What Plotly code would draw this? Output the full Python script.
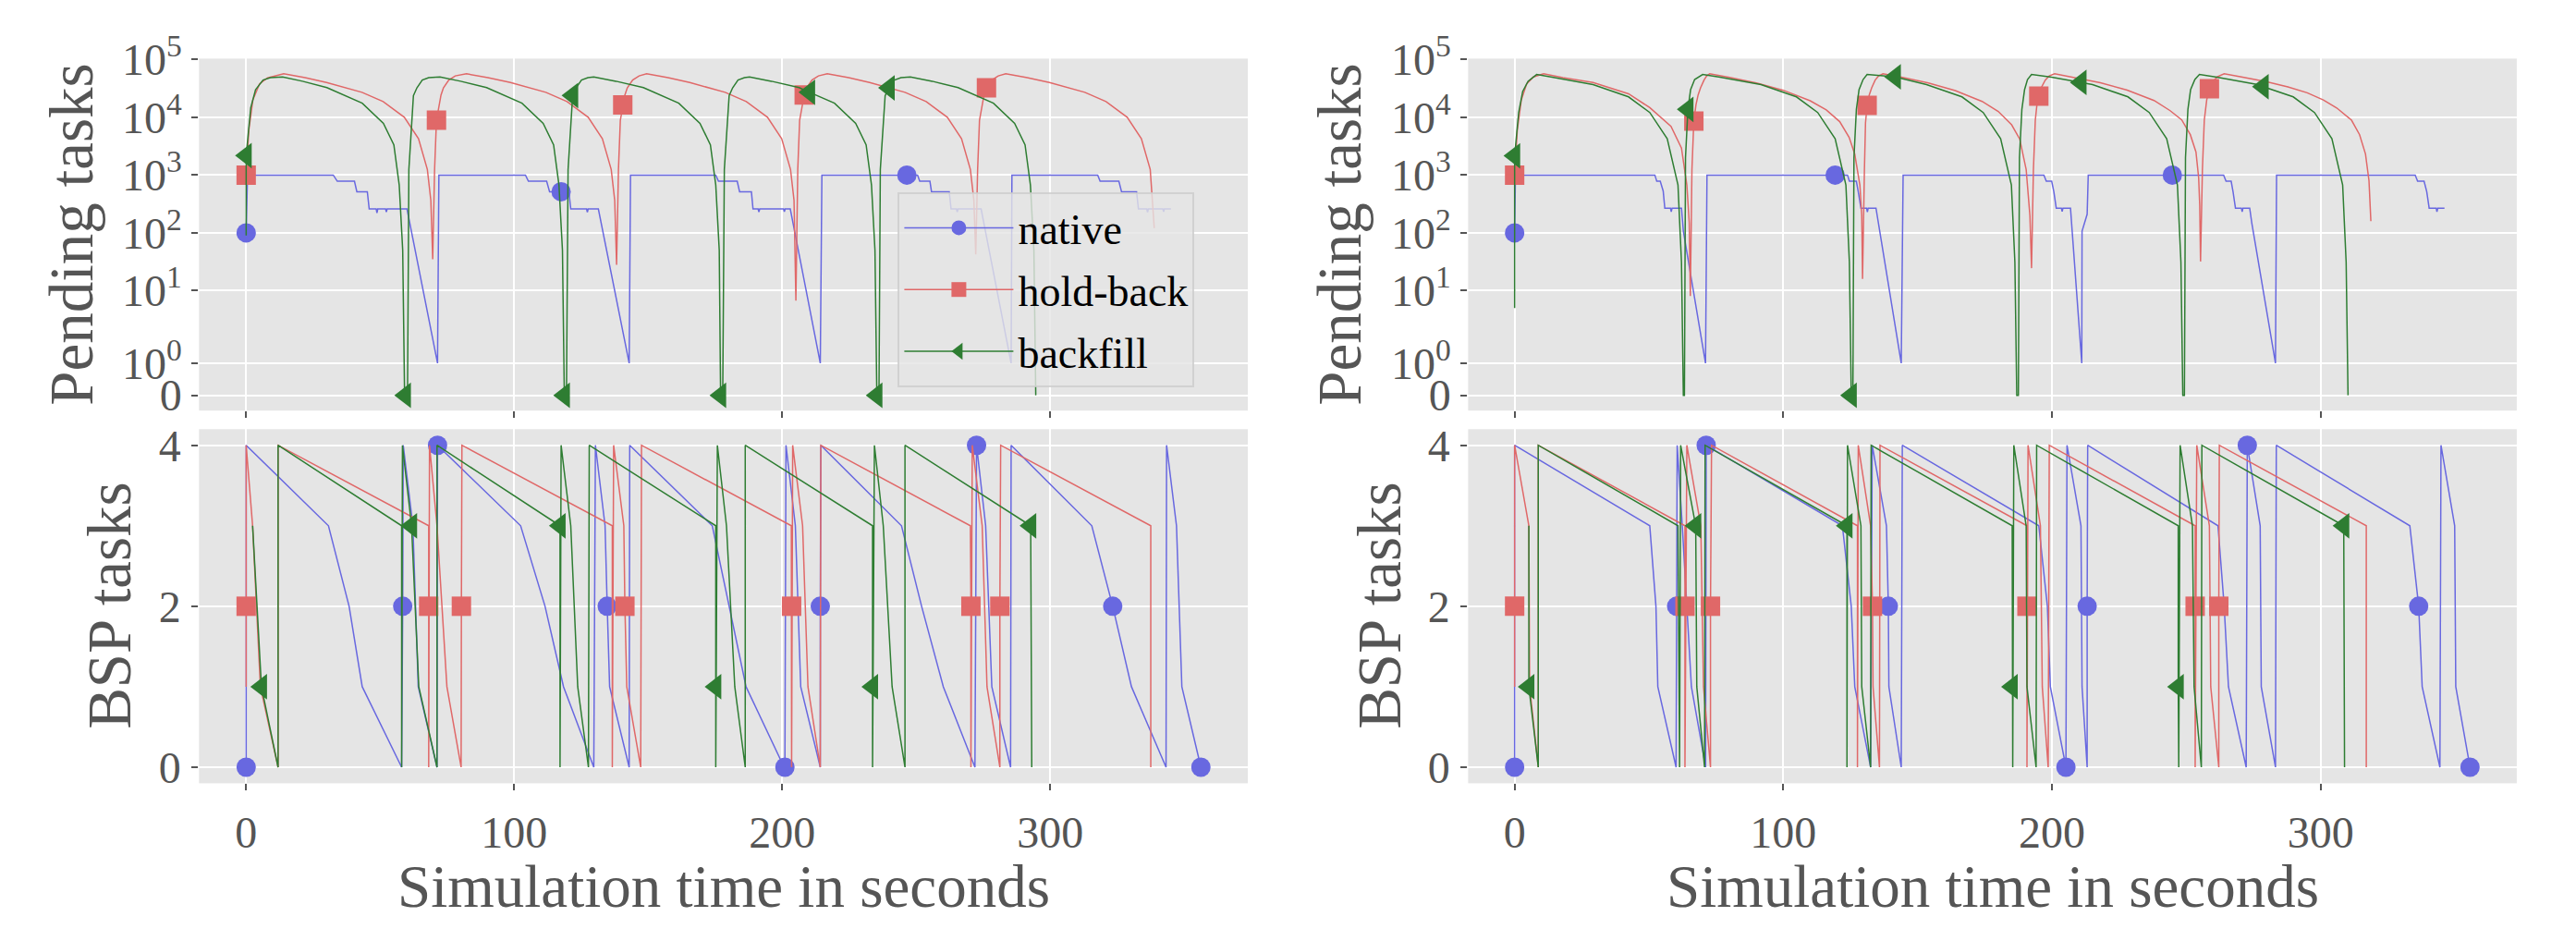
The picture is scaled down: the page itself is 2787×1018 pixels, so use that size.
import math
import plotly.graph_objects as go

W, H = 2787, 1018

# ---------------- data ----------------
SERIES = ["native", "hold-back", "backfill"]
X_TICKS = [0, 100, 200, 300]
PENDING_TICKS = [0, 1, 10, 100, 1000, 10000, 100000]
PENDING_LABELS = ["0", "10<sup>0</sup>", "10<sup>1</sup>", "10<sup>2</sup>",
                  "10<sup>3</sup>", "10<sup>4</sup>", "10<sup>5</sup>"]
BSP_TICKS = [0, 2, 4]
BSP_LABELS = ["0", "2", "4"]
X_TITLE = "Simulation time in seconds"
Y_TITLE_TOP = "Pending tasks"
Y_TITLE_BOTTOM = "BSP tasks"

# left column, pending tasks (time, count)
tl_native = [(0, 100), (0.5, 1000), (32.5, 1000), (34.0, 782), (40.4, 782), (41.3, 515), (45.2, 515),
             (45.9, 259), (48.5, 259), (48.8, 222), (49.1, 259), (52.0, 259), (52.3, 230), (52.6, 259),
             (60.0, 259), (71.4, 1), (71.9, 1000), (104.2, 1000), (105.3, 782), (112.1, 782), (113.2, 515),
             (117.5, 515), (120.4, 515), (121.1, 259), (127.0, 259), (127.3, 228), (127.6, 259), (131.4, 259),
             (142.9, 1), (143.4, 1000), (175.2, 1000), (176.2, 782), (183.2, 782), (184.1, 515), (188.5, 515),
             (189.1, 259), (191.0, 259), (191.3, 230), (191.6, 259), (200.5, 259), (200.8, 232), (201.1, 259),
             (203.0, 259), (214.2, 1), (214.8, 1000), (246.5, 1000), (250.5, 1000), (251.3, 782), (255.1, 782),
             (255.7, 515), (262.3, 515), (263.0, 259), (265.0, 259), (265.3, 230), (265.6, 259), (274.2, 259),
             (285.4, 1), (285.7, 1000), (317.7, 1000), (318.6, 782), (325.6, 782), (326.6, 515), (332.2, 515),
             (332.9, 259), (336.0, 259), (336.3, 228), (336.6, 259), (342.0, 259), (342.3, 232), (342.6, 259),
             (345.0, 259)]
tl_native_marks = [(0, 100), (117.5, 515), (246.5, 1000)]

tl_holdback = [(0, 1000), (1.0, 6000), (2.5, 20000), (5.0, 38000), (8.0, 48000), (14.0, 56500), (22.0, 48500),
               (30.0, 40000), (43.2, 27000), (51.1, 18700), (59.0, 10000), (64.3, 4260), (67.6, 1250),
               (68.9, 366), (69.6, 35),
               (70.3, 1250), (71.0, 8900), (71.9, 16400), (72.7, 24400), (73.6, 32300), (75.6, 44000),
               (78.0, 52000), (82.2, 56500), (90.2, 48500), (98.6, 40000), (111.8, 27000), (119.7, 18700),
               (127.6, 10000), (132.9, 4260), (136.2, 1250), (137.5, 366), (138.2, 28),
               (138.9, 1250), (139.6, 8900), (140.5, 16400), (141.3, 24400), (142.2, 32300), (144.2, 44000),
               (146.6, 52000), (149.4, 56500), (157.4, 48500), (165.5, 40000), (178.7, 27000), (186.6, 18700),
               (194.5, 10000), (199.8, 4260), (203.1, 1250), (204.4, 366), (205.1, 6.7),
               (205.8, 1250), (206.5, 8900), (207.4, 16400), (208.2, 24400), (209.1, 32300), (211.1, 44000),
               (213.5, 52000), (216.8, 56500), (224.8, 48500), (232.6, 40000), (245.8, 27000), (253.7, 18700),
               (261.6, 10000), (266.9, 4260), (270.2, 1250), (271.5, 366), (272.2, 42.5),
               (272.9, 1250), (273.6, 8900), (274.5, 16400), (275.3, 24400), (276.2, 32300), (278.2, 44000),
               (280.6, 52000), (283.4, 56500), (291.4, 48500), (299.7, 40000), (312.9, 27000), (320.8, 18700),
               (328.7, 10000), (334.0, 4260), (337.3, 1250), (338.8, 121)]
tl_holdback_marks = [(0, 1000), (71.0, 8900), (140.5, 16400), (208.2, 24400), (276.2, 32300)]

tl_backfill = [(0, 90), (0, 2170), (1.7, 14560), (3.5, 30000), (6.3, 44000), (9.0, 48500), (13.6, 50000),
               (21.0, 42000), (30.1, 32540), (43.3, 17500), (51.2, 7870), (55.1, 3340), (57.1, 674),
               (58.4, 50), (59.1, 0), (59.4, 0),
               (60.2, 0), (60.7, 1250), (62.4, 23770), (63.7, 32280), (65.7, 44000), (68.1, 48500),
               (72.3, 50000), (80.0, 42000), (89.7, 32540), (102.9, 17500), (110.8, 7870), (114.7, 3340),
               (116.7, 674), (118.0, 50), (118.7, 0),
               (119.5, 0), (120.1, 1250), (121.8, 23770), (123.1, 32280), (125.1, 44000), (127.5, 48500),
               (129.7, 50000), (138.0, 42000), (148.2, 32540), (161.4, 17500), (169.3, 7870), (173.2, 3340),
               (175.2, 674), (176.5, 50), (177.0, 0),
               (177.8, 0), (178.4, 1250), (180.2, 23770), (181.5, 32280), (183.5, 44000), (185.9, 48500),
               (187.8, 50000), (196.0, 42000), (206.3, 32540), (210.2, 27060), (219.5, 17500), (227.4, 7870),
               (231.3, 3340), (233.3, 674), (234.6, 50), (235.3, 0),
               (236.1, 0), (236.6, 1250), (238.4, 23770), (239.9, 32280), (241.9, 44000), (244.3, 48500),
               (247.8, 50000), (256.0, 42000), (265.6, 32540), (278.8, 17500), (286.7, 7870), (290.6, 3340),
               (292.6, 674), (293.9, 50), (294.6, 0)]
tl_backfill_marks = [(0, 2170), (59.4, 0), (118.7, 0), (121.8, 23770), (177.0, 0), (210.2, 27060),
                     (235.3, 0), (239.9, 32280)]

# right column, pending tasks
tr_native = [(0, 100), (0.3, 1000), (52.2, 1000), (52.9, 782), (54.2, 782), (55.3, 528), (55.9, 268),
             (58.0, 268), (58.3, 232), (58.6, 268), (62.1, 268), (62.8, 107), (71.05, 1), (71.6, 1000),
             (119.3, 1000), (123.9, 1000), (124.6, 782), (127.2, 782), (127.9, 515), (128.9, 268),
             (131.0, 268), (131.3, 230), (131.6, 268), (134.5, 268), (143.9, 1), (144.6, 1000), (197.0, 1000),
             (197.9, 782), (199.9, 782), (200.7, 515), (201.6, 268), (203.5, 268), (203.8, 235), (204.1, 268),
             (206.9, 268), (211.1, 1), (211.2, 107), (213.1, 210), (213.5, 1000), (244.8, 1000), (263.9, 1000),
             (264.8, 782), (266.7, 782), (267.4, 515), (268.3, 268), (270.5, 268), (270.8, 232), (271.1, 268),
             (273.6, 268), (274.4, 146), (283.2, 1), (283.6, 1000), (335.2, 1000), (336.1, 782), (338.5, 782),
             (339.5, 515), (340.4, 268), (343.0, 268), (343.3, 232), (343.6, 268), (346.1, 268)]
tr_native_marks = [(0, 100), (119.3, 1000), (244.8, 1000)]

tr_holdback = [(0, 1000), (1.0, 6000), (2.5, 20000), (4.5, 38000), (7.0, 50000), (10.8, 56500), (18.0, 48500),
               (29.2, 40000), (42.4, 25470), (50.3, 14660), (58.2, 6970), (62.1, 2940), (64.1, 675),
               (65.0, 150), (65.4, 8.1),
               (66.0, 1250), (66.7, 8570), (67.5, 16400), (68.3, 24400), (69.2, 32300), (70.5, 44000),
               (71.5, 52000), (72.6, 56500), (80.0, 49000), (90.0, 39200), (100.0, 29300), (110.0, 19300),
               (116.0, 13400), (121.0, 8400), (124.5, 4500), (126.6, 2300), (128.5, 675), (129.2, 200),
               (129.5, 16),
               (130.2, 1250), (130.6, 8000), (131.2, 16030), (132.0, 24400), (132.9, 32300), (134.2, 44000),
               (135.5, 52000), (137.1, 56500), (144.0, 49500), (154.0, 39200), (164.0, 29000), (174.0, 18800),
               (180.0, 12600), (185.0, 7400), (188.0, 4200), (190.4, 1250), (191.8, 198), (192.4, 24.5),
               (193.1, 1250), (193.8, 8900), (194.4, 16400), (195.1, 23170), (196.0, 32300), (197.5, 44000),
               (199.0, 52000), (201.0, 56500), (208.0, 49000), (218.0, 39500), (228.0, 29500), (238.0, 19500),
               (244.0, 13000), (248.3, 9000), (251.5, 5000), (253.6, 2500), (254.6, 900), (255.0, 300),
               (255.3, 32),
               (256.0, 1250), (256.7, 8900), (257.6, 20000), (258.6, 31120), (260.0, 42000), (261.5, 50000),
               (264.1, 56500), (271.0, 49500), (280.0, 41000), (287.8, 33500), (295.0, 26500), (301.0, 19900),
               (306.0, 14500), (311.5, 8900), (314.5, 5000), (316.7, 2310), (318.0, 800), (318.7, 160)]
tr_holdback_marks = [(0, 1000), (66.7, 8570), (131.2, 16030), (195.1, 23170), (258.6, 31120)]

tr_backfill = [(0, 5), (0, 2150), (1.5, 12000), (3.0, 28000), (5.0, 42000), (8.2, 55000), (14.0, 49500),
               (29.2, 36800), (42.4, 22540), (50.3, 12100), (56.8, 4260), (60.8, 675), (62.1, 31), (62.8, 0),
               (63.2, 0), (63.6, 2000), (64.5, 13680), (65.5, 30000), (67.0, 45000), (70.0, 55000),
               (76.5, 49500), (91.7, 36800), (104.9, 22540), (112.8, 12100), (119.3, 4260), (123.3, 675),
               (124.6, 31), (125.3, 0),
               (125.9, 0), (126.3, 2000), (127.2, 13680), (128.2, 30000), (129.7, 45000), (131.2, 55000),
               (141.7, 50000), (153.3, 36800), (166.5, 22540), (174.4, 12100), (180.9, 4260), (184.9, 675),
               (186.2, 31), (186.9, 0),
               (187.5, 0), (187.9, 2000), (188.8, 13680), (189.8, 30000), (190.9, 45000), (192.4, 55000),
               (199.9, 49500), (210.8, 40000), (215.1, 36800), (228.3, 22540), (236.2, 12100), (242.7, 4260),
               (246.7, 675), (248.0, 31), (248.7, 0),
               (249.3, 0), (249.7, 2000), (250.6, 13680), (251.6, 30000), (253.2, 45000), (254.9, 55000),
               (261.4, 49500), (276.6, 36800), (278.6, 33760), (289.8, 22540), (297.7, 12100), (304.2, 4260),
               (308.2, 675), (309.5, 31), (310.2, 0)]
tr_backfill_marks = [(0, 2150), (64.5, 13680), (125.3, 0), (141.7, 50000), (210.8, 40000), (278.6, 33760)]

# left column, BSP tasks
bl_native = [(0, 0), (0, 4), (30.7, 3), (38.4, 2), (43.3, 1), (58.0, 0), (58.4, 2), (58.6, 4), (62.2, 3),
             (64.2, 1), (71.2, 0), (71.4, 4), (102.4, 3), (111.5, 2), (118.4, 1), (129.7, 0), (130.3, 4),
             (133.9, 3), (134.7, 2), (135.6, 1), (142.9, 0), (143.1, 4), (173.9, 3), (180.2, 2), (186.5, 1),
             (200.7, 0), (201.0, 0), (201.4, 4), (204.9, 3), (206.9, 1), (214.2, 0), (214.2, 2), (214.4, 4),
             (244.5, 3), (252.0, 2), (260.1, 1), (271.9, 0), (272.5, 4), (275.9, 3), (278.2, 1), (285.2, 0),
             (285.4, 4), (315.5, 3), (323.3, 2), (330.3, 1), (343.2, 0), (343.4, 4), (347.1, 3), (349.1, 1),
             (356.2, 0)]
bl_native_marks = [(0, 0), (58.4, 2), (71.4, 4), (134.7, 2), (201.0, 0), (214.2, 2), (272.5, 4),
                   (323.3, 2), (356.2, 0)]

bl_holdback = [(0, 1), (0, 2), (0, 4), (2.4, 3), (5.3, 1), (11.9, 0), (11.9, 4), (68.1, 3), (68.1, 2),
               (68.1, 0), (68.4, 4), (71.2, 3), (74.9, 1), (80.2, 0), (80.3, 2), (80.5, 4), (136.6, 3),
               (136.6, 0), (137.1, 4), (140.9, 3), (141.3, 2), (142.0, 1), (147.2, 0), (147.5, 4), (203.4, 3),
               (203.5, 2), (203.5, 0), (203.9, 4), (207.6, 3), (209.6, 1), (214.2, 0), (214.4, 4), (270.2, 3),
               (270.4, 2), (270.4, 0), (270.9, 4), (274.6, 3), (276.4, 1), (281.2, 0), (281.2, 2), (281.5, 4),
               (337.5, 3), (337.5, 0)]
bl_holdback_marks = [(0, 2), (68.1, 2), (80.3, 2), (141.3, 2), (203.5, 2), (270.4, 2), (281.2, 2)]

bl_backfill = [(2.4, 3), (5.7, 1), (11.9, 0), (11.9, 4), (58.0, 3), (58.0, 0), (58.3, 4), (61.7, 3),
               (64.4, 1), (71.2, 0), (71.2, 4), (117.1, 3), (117.1, 0), (117.5, 4), (121.1, 3), (123.7, 1),
               (127.7, 0), (128.0, 4), (175.2, 3), (175.2, 1), (175.2, 0), (175.8, 4), (179.2, 3), (182.3, 1),
               (186.2, 0), (186.2, 4), (233.7, 3), (233.7, 1), (233.7, 0), (234.4, 4), (237.7, 3), (241.0, 1),
               (245.8, 0), (245.8, 4), (292.7, 3), (293.1, 0)]
bl_backfill_marks = [(5.7, 1), (61.7, 3), (117.1, 3), (175.2, 1), (233.7, 1), (292.7, 3)]

# right column, BSP tasks
br_native = [(0, 0), (0, 4), (50.3, 3), (52.6, 2), (53.3, 1), (60.1, 0), (60.3, 2), (60.5, 4), (62.4, 3),
             (65.8, 1), (71.1, 0), (71.3, 4), (122.0, 3), (125.3, 2), (126.6, 1), (132.5, 0), (133.1, 4),
             (138.4, 3), (139.1, 2), (139.3, 1), (143.9, 0), (144.3, 4), (195.1, 3), (198.3, 2), (199.4, 1),
             (205.2, 0), (205.6, 4), (210.8, 3), (211.2, 1), (213.1, 0), (213.1, 2), (213.3, 4), (261.8, 3),
             (264.1, 2), (265.7, 1), (272.3, 0), (272.7, 4), (277.5, 3), (277.9, 1), (283.2, 0), (283.5, 4),
             (333.2, 3), (336.5, 2), (337.8, 1), (344.4, 0), (344.8, 4), (349.9, 3), (350.3, 1), (355.6, 0)]
br_native_marks = [(0, 0), (60.3, 2), (71.3, 4), (139.1, 2), (205.2, 0), (213.1, 2), (272.7, 4),
                   (336.5, 2), (355.6, 0)]

br_holdback = [(0, 1), (0, 2), (0, 4), (5.3, 3), (5.6, 1), (8.8, 0), (8.8, 4), (63.4, 3), (63.4, 2),
               (63.4, 0), (64.1, 4), (69.3, 3), (70.3, 1), (72.9, 0), (72.9, 2), (73.3, 4), (127.6, 3),
               (127.6, 0), (127.9, 4), (132.5, 3), (133.2, 2), (133.4, 1), (135.8, 0), (136.0, 4), (190.7, 3),
               (190.7, 2), (190.7, 0), (191.1, 4), (195.7, 3), (196.4, 1), (198.6, 0), (199.0, 4), (253.3, 3),
               (253.3, 2), (253.3, 0), (253.9, 4), (258.6, 3), (259.1, 1), (262.1, 0), (262.1, 2), (262.3, 4),
               (317.0, 3), (317.0, 0)]
br_holdback_marks = [(0, 2), (63.4, 2), (72.9, 2), (133.2, 2), (190.7, 2), (253.3, 2), (262.1, 2)]

br_backfill = [(5.3, 3), (5.3, 1), (8.8, 0), (8.8, 4), (60.8, 3), (61.4, 0), (61.8, 4), (67.4, 3), (67.8, 1),
               (70.7, 0), (70.9, 4), (123.7, 3), (123.7, 0), (123.9, 4), (128.9, 3), (129.2, 1), (132.5, 0),
               (132.7, 4), (185.2, 3), (185.2, 1), (185.4, 0), (185.8, 4), (190.4, 3), (190.7, 1), (194.1, 0),
               (194.3, 4), (247.0, 3), (247.0, 1), (247.2, 0), (247.7, 4), (252.3, 3), (252.9, 1), (255.6, 0),
               (255.8, 4), (308.6, 3), (308.9, 0)]
br_backfill_marks = [(5.3, 1), (67.4, 3), (123.7, 3), (185.2, 1), (247.0, 1), (308.6, 3)]

# ---------------- styling ----------------
COLORS = {"native": "#6868E0", "hold-back": "#E06868", "backfill": "#2E7D32"}
SYMBOLS = {"native": "circle", "hold-back": "square", "backfill": "triangle-left"}
MSIZE = {"native": 21, "hold-back": 21, "backfill": 24}
FONT = "Liberation Serif"
TXT = "#555555"


def symlog(v, linthresh=2.0, linscale=1.0, base=10.0):
    adj = linscale / (1.0 - 1.0 / base)
    a = abs(v)
    if a <= linthresh:
        return v * adj
    return math.copysign(linthresh * (adj + math.log(a / linthresh, base)), v)


def ident(v):
    return v


fig = go.Figure()

panels = [
    ("x", "y", symlog, [tl_native, tl_holdback, tl_backfill],
     [tl_native_marks, tl_holdback_marks, tl_backfill_marks], True),
    ("x2", "y2", symlog, [tr_native, tr_holdback, tr_backfill],
     [tr_native_marks, tr_holdback_marks, tr_backfill_marks], False),
    ("x3", "y3", ident, [bl_native, bl_holdback, bl_backfill],
     [bl_native_marks, bl_holdback_marks, bl_backfill_marks], False),
    ("x4", "y4", ident, [br_native, br_holdback, br_backfill],
     [br_native_marks, br_holdback_marks, br_backfill_marks], False),
]

for xa, ya, tf, data, marks, leg in panels:
    for name, pts, mk in zip(SERIES, data, marks):
        sel = [pts.index(m) for m in mk]
        fig.add_trace(go.Scatter(
            x=[p[0] for p in pts], y=[tf(p[1]) for p in pts],
            mode="lines+markers", name=name, legendgroup=name, showlegend=leg,
            line=dict(color=COLORS[name], width=1.5),
            marker=dict(symbol=SYMBOLS[name], size=MSIZE[name], color=COLORS[name], line=dict(width=0)),
            selectedpoints=sel,
            selected=dict(marker=dict(opacity=1)),
            unselected=dict(marker=dict(opacity=0)),
            xaxis=xa, yaxis=ya, hoverinfo="skip"))

XL = [215.3 / W, 1350.0 / W]
XR = [1588.4 / W, 2722.9 / W]
YT = [1 - 444.2 / H, 1 - 63.4 / H]
YB = [1 - 847.4 / H, 1 - 464.3 / H]

tickfont = dict(family=FONT, size=48, color=TXT)
common = dict(showgrid=True, gridcolor="white", gridwidth=2, zeroline=False, showline=False,
              ticks="outside", ticklen=7, tickwidth=2, tickcolor=TXT, tickfont=tickfont, automargin=False)

pend_vals = [symlog(v) for v in PENDING_TICKS]

fig.update_layout(
    width=W, height=H, margin=dict(l=0, r=0, t=0, b=0, pad=0, autoexpand=False),
    paper_bgcolor="white", plot_bgcolor="#E5E5E5",
    xaxis=dict(domain=XL, anchor="y", range=[-17.6, 373.7], tickvals=X_TICKS, showticklabels=False, **common),
    xaxis2=dict(domain=XR, anchor="y2", range=[-17.3, 373.0], tickvals=X_TICKS, showticklabels=False, **common),
    xaxis3=dict(domain=XL, anchor="y3", range=[-17.6, 373.7], tickvals=X_TICKS,
                ticktext=[str(v) for v in X_TICKS], ticklabelstandoff=4, **common),
    xaxis4=dict(domain=XR, anchor="y4", range=[-17.3, 373.0], tickvals=X_TICKS,
                ticktext=[str(v) for v in X_TICKS], ticklabelstandoff=4, **common),
    yaxis=dict(domain=YT, anchor="x", range=[-0.53, 11.65], tickvals=pend_vals, ticktext=PENDING_LABELS,
               ticklabelstandoff=1, **common),
    yaxis2=dict(domain=YT, anchor="x2", range=[-0.53, 11.65], tickvals=pend_vals, ticktext=PENDING_LABELS,
                ticklabelstandoff=1, **common),
    yaxis3=dict(domain=YB, anchor="x3", range=[-0.2, 4.2], tickvals=BSP_TICKS, ticktext=BSP_LABELS,
                ticklabelstandoff=2, **common),
    yaxis4=dict(domain=YB, anchor="x4", range=[-0.2, 4.2], tickvals=BSP_TICKS, ticktext=BSP_LABELS,
                ticklabelstandoff=2, **common),
    legend=dict(x=971.4 / W, y=1 - 208.0 / H, xanchor="left", yanchor="top",
                bgcolor="rgba(229,229,229,0.8)", bordercolor="rgba(204,204,204,0.8)", borderwidth=2,
                font=dict(family=FONT, size=46, color="black"), itemwidth=118, tracegroupgap=4),
)

ytitle_font = dict(family=FONT, size=67, color=TXT)
xtitle_font = dict(family=FONT, size=65, color=TXT)
annots = [
    (77 / W, (YT[0] + YT[1]) / 2, Y_TITLE_TOP, -90, ytitle_font),
    (118 / W, (YB[0] + YB[1]) / 2, Y_TITLE_BOTTOM, -90, ytitle_font),
    (1449 / W, (YT[0] + YT[1]) / 2, Y_TITLE_TOP, -90, ytitle_font),
    (1492 / W, (YB[0] + YB[1]) / 2, Y_TITLE_BOTTOM, -90, ytitle_font),
    ((XL[0] + XL[1]) / 2, 1 - 959 / H, X_TITLE, 0, xtitle_font),
    ((XR[0] + XR[1]) / 2, 1 - 959 / H, X_TITLE, 0, xtitle_font),
]
for ax, ay, text, ang, fnt in annots:
    fig.add_annotation(x=ax, y=ay, xref="paper", yref="paper", text=text, textangle=ang,
                       showarrow=False, xanchor="center", yanchor="middle", font=fnt)

fig.write_html("out.html", config={"displayModeBar": False},
               post_script="document.body.style.margin='0px';")
